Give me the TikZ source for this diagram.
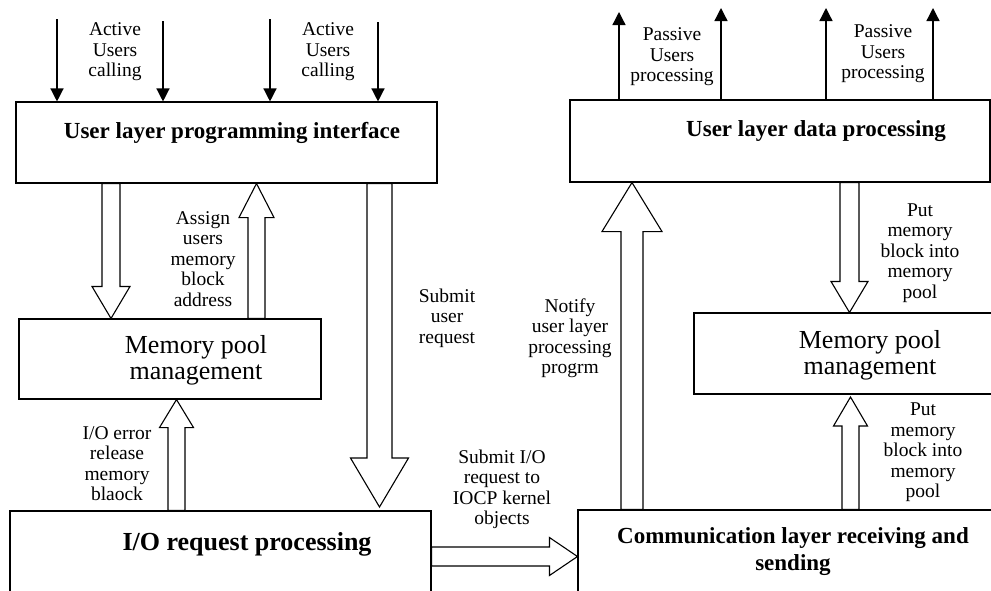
\documentclass[tikz,border=0pt]{standalone}
\usepackage{fontspec}
\setmainfont{Liberation Serif}
\usetikzlibrary{calc,arrows.meta}

\tikzset{
  box/.style={draw,line width=1.1pt,inner sep=0pt},
  lbl/.style={align=center,inner sep=0pt,font=\fontsize{19.5}{20.5}\selectfont},
  ttl/.style={align=center,inner sep=0pt,font=\fontsize{23}{27}\selectfont\bfseries},
  pooltxt/.style={align=center,inner sep=0pt,font=\fontsize{26}{26}\selectfont},
  hollow/.style={draw,fill=white,line width=1.1pt,line join=miter},
  thinarr/.style={line width=1.3pt,-{Triangle[length=13pt,width=13pt]}}
}
% #1 start, #2 tip, #3 half shaft, #4 half head, #5 head length
\newcommand{\hollowarrow}[5]{%
  \coordinate (hb) at ($(#2)!#5!(#1)$);
  \draw[hollow] ($(#1)!#3!90:(#2)$) -- ($(hb)!#3!90:(#2)$) -- ($(hb)!#4!90:(#2)$) -- (#2)
    -- ($(hb)!#4!-90:(#2)$) -- ($(hb)!#3!-90:(#2)$) -- ($(#1)!#3!-90:(#2)$) -- cycle;
}

\begin{document}
\begin{tikzpicture}[x=1pt,y=-1pt]
  \useasboundingbox (0,0) rectangle (991,590);
  \clip (0,0) rectangle (991,590);
  % boxes
  \node[box,minimum width=421pt,minimum height=81pt] (api) at (226.5,142.5) {};
  \node[box,minimum width=302pt,minimum height=80pt] (pool1) at (170,359) {};
  \node[box,minimum width=421pt,minimum height=109pt] (io) at (220.5,565.5) {};
  \node[box,minimum width=420pt,minimum height=82pt] (data) at (780,141) {};
  \node[box,minimum width=316pt,minimum height=81pt] (pool2) at (852,353.5) {};
  \node[box,minimum width=432pt,minimum height=110pt] (comm) at (794,565) {};
  \node[ttl] (t-api) at (232,133) {User layer programming interface};
  \node[pooltxt] (t-pool1) at (196,360) {Memory pool\\management};
  \node[ttl,font=\fontsize{26}{30}\selectfont\bfseries] (t-io) at (247,544) {I/O request processing};
  \node[ttl] (t-data) at (816,131) {User layer data processing};
  \node[pooltxt] (t-pool2) at (870,355) {Memory pool\\management};
  \node[ttl] (t-comm) at (793,551.5) {Communication layer receiving and\\sending};
  % calls in and out
  \foreach \x/\y in {57/19,163/21,270/19,378/22} {
    \coordinate (in) at (\x,\y);
    \draw[thinarr] (in) -- (in |- api.north);
  }
  \foreach \x/\y in {619/12,721/8,826/8,933/8} {
    \coordinate (out) at (\x,\y);
    \draw[thinarr] (out |- data.north) -- (out);
  }
  \node[lbl] (l-in1) at (115,52) {Active\\Users\\calling};
  \node[lbl] (l-in2) at (328,52) {Active\\Users\\calling};
  \node[lbl] (l-out1) at (672,57) {Passive\\Users\\processing};
  \node[lbl] (l-out2) at (883,54) {Passive\\Users\\processing};
  % block arrows
  \coordinate (s1) at (111,0 |- api.south);   \coordinate (e1) at (111,0 |- pool1.north);
  \coordinate (s2) at (256.5,0 |- pool1.north); \coordinate (e2) at (256.5,0 |- api.south);
  \coordinate (s3) at (176.5,0 |- io.north);  \coordinate (e3) at (176.5,0 |- pool1.south);
  \coordinate (s4) at (379.5,0 |- api.south); \coordinate (e4) at (379.5,507);
  \coordinate (s5) at (io.east |- 0,556.5);   \coordinate (e5) at (comm.west |- 0,556.5);
  \coordinate (s6) at (632,0 |- comm.north);  \coordinate (e6) at (632,0 |- data.south);
  \coordinate (s7) at (849.5,0 |- data.south); \coordinate (e7) at (849.5,0 |- pool2.north);
  \coordinate (s8) at (850.5,0 |- comm.north); \coordinate (e8) at (850.5,397);
  \hollowarrow{s1}{e1}{9pt}{19pt}{32pt}
  \hollowarrow{s2}{e2}{8.5pt}{17.5pt}{34pt}
  \hollowarrow{s3}{e3}{8.5pt}{17pt}{28pt}
  \hollowarrow{s4}{e4}{12.5pt}{29pt}{49pt}
  \hollowarrow{s5}{e5}{9.5pt}{19pt}{28pt}
  \hollowarrow{s6}{e6}{11pt}{30pt}{49pt}
  \hollowarrow{s7}{e7}{9.5pt}{18.5pt}{31pt}
  \hollowarrow{s8}{e8}{8.5pt}{17pt}{29pt}
  \node[lbl] (l-assign) at (203,259) {Assign\\users\\memory\\block\\address};
  \node[lbl] (l-err) at (117,463.5) {I/O error\\release\\memory\\blaock};
  \node[lbl] (l-submit) at (447,318) {Submit\\user\\request};
  \node[lbl] (l-iocp) at (502,489.5) {Submit I/O\\request to\\IOCP kernel\\objects};
  \node[lbl] (l-notify) at (570,338) {Notify\\user layer\\processing\\progrm};
  \node[lbl] (l-put1) at (920,253) {Put\\memory\\block into\\memory\\pool};
  \node[lbl] (l-put2) at (923,452.5) {Put\\memory\\block into\\memory\\pool};
\end{tikzpicture}
\end{document}
